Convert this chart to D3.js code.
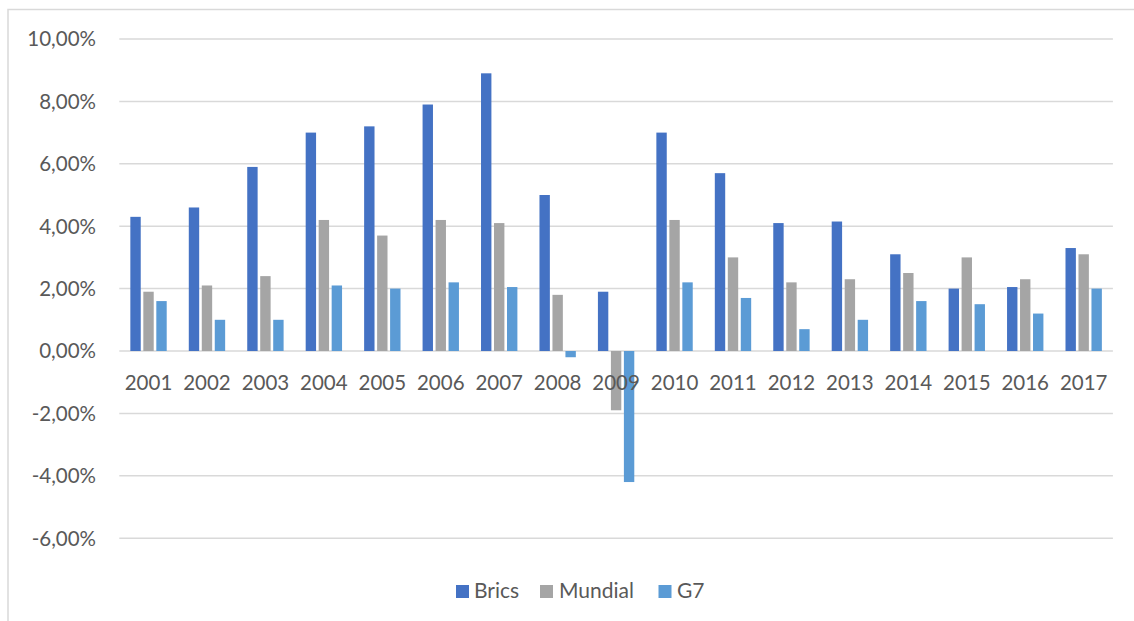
<!DOCTYPE html>
<html>
<head>
<meta charset="utf-8">
<script src="https://cdn.jsdelivr.net/npm/d3@7"></script>
<style>
  html, body { margin: 0; padding: 0; background: #fff; }
  svg { display: block; }
  text { font-family: Lato, "Open Sans", sans-serif; fill: #595959; }
</style>
</head>
<body>
<svg id="chart" width="1134" height="621"></svg>
<script>
const years = ["2001","2002","2003","2004","2005","2006","2007","2008","2009","2010","2011","2012","2013","2014","2015","2016","2017"];
const seriesNames = ["Brics", "Mundial", "G7"];
const brics   = [4.3, 4.6, 5.9, 7.0, 7.2, 7.9, 8.9, 5.0, 1.9, 7.0, 5.7, 4.1, 4.15, 3.1, 2.0, 2.05, 3.3];
const mundial = [1.9, 2.1, 2.4, 4.2, 3.7, 4.2, 4.1, 1.8, -1.9, 4.2, 3.0, 2.2, 2.3, 2.5, 3.0, 2.3, 3.1];
const g7      = [1.6, 1.0, 1.0, 2.1, 2.0, 2.2, 2.05, -0.2, -4.2, 2.2, 1.7, 0.7, 1.0, 1.6, 1.5, 1.2, 2.0];
const yTicks  = [10, 8, 6, 4, 2, 0, -2, -4, -6];
const colors  = ["#4472C4", "#A5A5A5", "#5B9BD5"];

const seriesValues = [brics, mundial, g7];
const svg = d3.select("#chart");

// outer chart border
svg.append("rect")
  .attr("x", 8).attr("y", 9.5).attr("width", 1300).attr("height", 700)
  .attr("fill", "none").attr("stroke", "#d9d9d9").attr("stroke-width", 1.5);

const x = d3.scaleBand().domain(years).range([119.3, 1112.9])
  .paddingInner(1/3).paddingOuter(1/6);
const xs = d3.scaleBand().domain(seriesNames).range([0, x.bandwidth()]).padding(0);
const y = d3.scaleLinear().domain([-6, 10]).range([538.2, 39]);

const fmt = v => (v < 0 ? "-" : "") + d3.format(".2f")(Math.abs(v)).replace(".", ",") + "%";

// gridlines
svg.append("g").selectAll("line").data(yTicks).join("line")
  .attr("x1", 119.3).attr("x2", 1112.9)
  .attr("y1", d => y(d)).attr("y2", d => y(d))
  .attr("stroke", "#d9d9d9").attr("stroke-width", 1.5);

// y labels
svg.append("g").selectAll("text").data(yTicks).join("text")
  .attr("x", 96).attr("y", d => y(d))
  .attr("dy", "0.36em")
  .attr("text-anchor", "end")
  .style("font-size", "20.5px")
  .text(fmt);

// bars
const inset = 1.3;
seriesNames.forEach((name, si) => {
  svg.append("g").selectAll("rect").data(seriesValues[si]).join("rect")
    .attr("x", (d, i) => x(years[i]) + xs(name) + inset)
    .attr("width", xs.bandwidth() - 2 * inset)
    .attr("y", d => Math.min(y(d), y(0)))
    .attr("height", d => Math.abs(y(d) - y(0)))
    .attr("fill", colors[si]);
});

// x labels
svg.append("g").selectAll("text").data(years).join("text")
  .attr("x", d => x(d) + x.bandwidth() / 2)
  .attr("y", 390)
  .attr("text-anchor", "middle")
  .style("font-size", "20.5px")
  .text(d => d);

// legend
const legendItems = [
  { name: "Brics", sx: 456, tx: 474 },
  { name: "Mundial", sx: 540, tx: 559 },
  { name: "G7", sx: 658.5, tx: 677 }
];
const lg = svg.append("g");
legendItems.forEach((it, i) => {
  lg.append("rect").attr("x", it.sx).attr("y", 585).attr("width", 13).attr("height", 13)
    .attr("fill", colors[i]);
  lg.append("text").attr("x", it.tx).attr("y", 598.3)
    .style("font-size", "21px").text(it.name);
});
</script>
</body>
</html>
